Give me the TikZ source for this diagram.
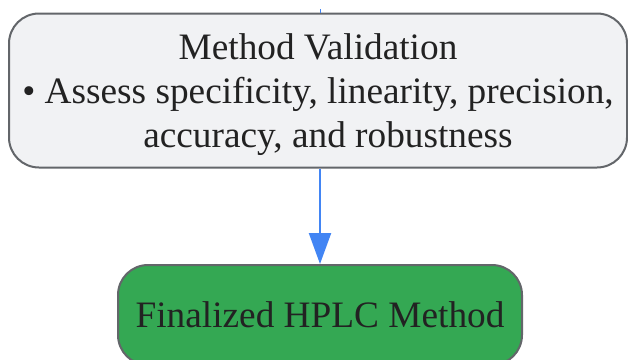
\documentclass[tikz,border=0pt]{standalone}
\usepackage{fontspec}
\setmainfont{Liberation Serif}
\usetikzlibrary{arrows.meta}
\definecolor{boxfill}{HTML}{F1F2F4}
\definecolor{boxline}{HTML}{63666A}
\definecolor{greenfill}{HTML}{34A853}
\definecolor{arrowblue}{HTML}{4285F4}
\definecolor{txt}{HTML}{222222}
\tikzset{
  procbox/.style={draw=boxline, line width=2pt, rounded corners=30pt, inner sep=0pt},
  boxtext/.style={align=center, text=txt, font=\fontsize{37.3}{44}\selectfont, inner sep=0pt},
  flow/.style={draw=arrowblue, line width=2.2pt, -{Triangle[length=31pt,width=22pt]}}
}
\begin{document}
\begin{tikzpicture}[x=1pt,y=1pt]
\useasboundingbox (0,0) rectangle (628,-359);
\node[procbox, fill=boxfill, minimum width=618pt, minimum height=154pt] (val) at (318,-90.5) {};
\node[boxtext] (valtext) at ([yshift=-4pt]val.center)
  {Method Validation\\ \textbullet\ Assess specificity, linearity, precision,\\ \hspace*{20pt}accuracy, and robustness};
\node[procbox, boxtext, fill=greenfill, minimum width=404pt, minimum height=100pt] (fin) at (320,-315)
  {Finalized HPLC Method};
\coordinate (stub) at (320,-9);
\draw[draw=arrowblue, line width=1pt] (stub) -- (stub |- val.north);
\draw[flow] (val.south -| fin.north) -- (fin.north);
\end{tikzpicture}
\end{document}
